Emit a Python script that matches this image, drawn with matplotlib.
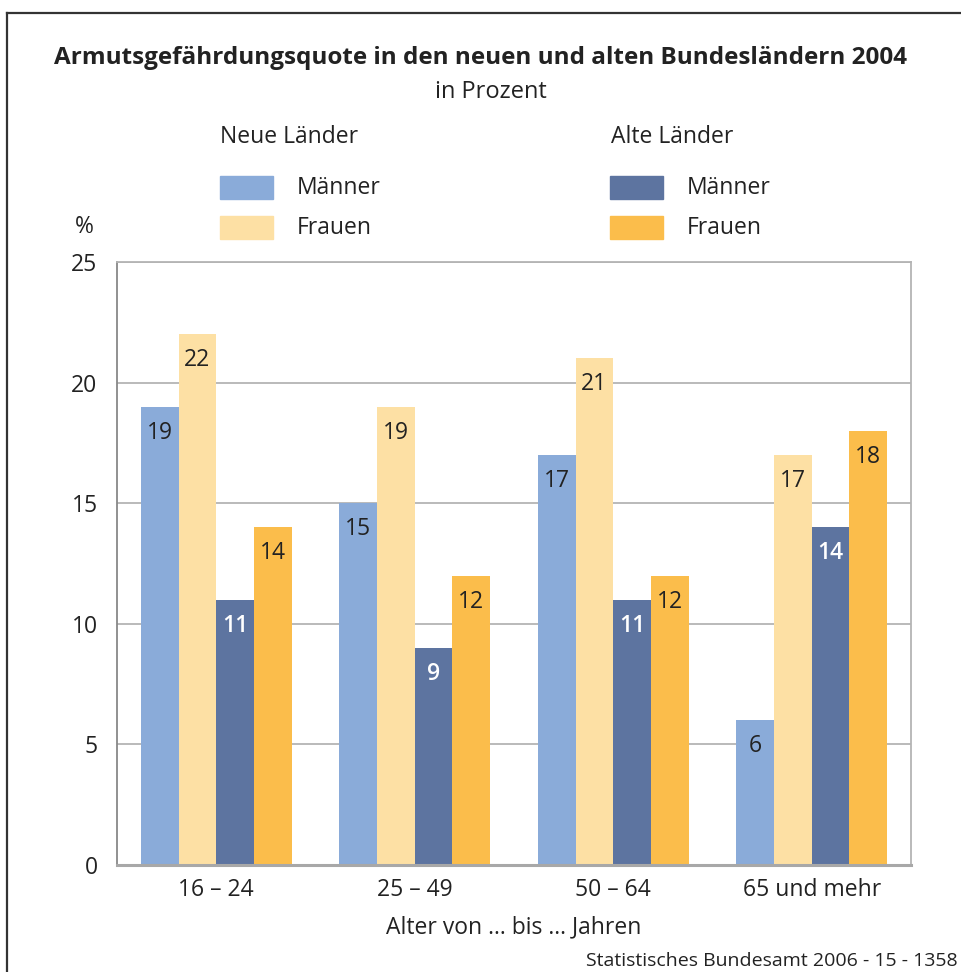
import numpy as np
import matplotlib
matplotlib.use('Agg')
import matplotlib.pyplot as plt
from matplotlib.patches import Rectangle
from matplotlib.lines import Line2D

plt.rcParams['font.family'] = ['Open Sans', 'DejaVu Sans']

# data
age_groups = ['16 – 24', '25 – 49', '50 – 64', '65 und mehr']
neue_maenner = [19, 15, 17, 6]
neue_frauen = [22, 19, 21, 17]
alte_maenner = [11, 9, 11, 14]
alte_frauen = [14, 12, 12, 18]
yticks = [0, 5, 10, 15, 20, 25]

series = [neue_maenner, neue_frauen, alte_maenner, alte_frauen]
colors = ['#8aabd9', '#fde0a4', '#5d74a0', '#fbbd4b']
label_colors = ['#222222', '#222222', 'white', '#222222']

W, H = 962, 972
txt = '#222222'
fs = 16.5
fig = plt.figure(figsize=(W/100, H/100), dpi=100)

def fx(px):
	return px / W

def fy(py):
	return 1 - py / H

# frame round the chart (only top and left visible)
fig.add_artist(Line2D([fx(7), fx(7)], [fy(13), 0], color='#333333', lw=1.6))
fig.add_artist(Line2D([fx(7), 1], [fy(13), fy(13)], color='#333333', lw=1.6))

fig.text(fx(481), fy(58), 'Armutsgefährdungsquote in den neuen und alten Bundesländern 2004',
	ha='center', va='center', fontsize=17.5, fontweight='bold', color=txt)
fig.text(fx(491), fy(92), 'in Prozent', ha='center', va='center', fontsize=17, color=txt)

# legend, built by hand in two columns
fig.text(fx(220), fy(137), 'Neue Länder', ha='left', va='center', fontsize=fs, color=txt)
fig.text(fx(611), fy(137), 'Alte Länder', ha='left', va='center', fontsize=fs, color=txt)
leg = [(220, 188, colors[0], 'Männer'), (220, 228, colors[1], 'Frauen'),
	(610, 188, colors[2], 'Männer'), (610, 228, colors[3], 'Frauen')]
for x0, yc, c, lab in leg:
	fig.add_artist(Rectangle((fx(x0), fy(yc + 11.5)), 53 / W, 23 / H, color=c, transform=fig.transFigure))
	fig.text(fx(x0 + 77), fy(yc), lab, ha='left', va='center', fontsize=fs, color=txt)

fig.text(fx(84), fy(227), '%', ha='center', va='center', fontsize=fs, color=txt)

ax = fig.add_axes([fx(117), fy(865), (911 - 117) / W, (865 - 262) / H])
x = np.arange(len(age_groups))
bw = 0.19
for i, vals in enumerate(series):
	pos = x + (i - 1.5) * bw
	bars = ax.bar(pos, vals, width=bw, color=colors[i], zorder=2, linewidth=0)
	for b, v in zip(bars, vals):
		ax.annotate(str(v), (b.get_x() + b.get_width() / 2, v), xytext=(0, -26),
			textcoords='offset pixels', ha='center', va='center', fontsize=fs,
			color=label_colors[i], fontweight='semibold' if i == 2 else 'normal', zorder=3)

ax.set_xlim(-0.5, 3.5)
ax.set_ylim(0, 25)
ax.set_yticks(yticks)
ax.set_xticks(x)
ax.set_xticklabels(age_groups)
ax.tick_params(axis='both', length=0, labelsize=fs, labelcolor=txt)
ax.tick_params(axis='y', pad=14)
ax.tick_params(axis='x', pad=9)
ax.yaxis.grid(True, color='#b4b4b4', lw=1.3, zorder=0)
ax.set_axisbelow(True)
for s in ax.spines.values():
	s.set_color('#b4b4b4')
	s.set_linewidth(1.3)
ax.spines['bottom'].set_linewidth(2.2)
ax.spines['bottom'].set_color('#a8a8a8')
ax.spines['left'].set_color('#888888')
ax.set_xlabel('Alter von ... bis ... Jahren', fontsize=fs, color=txt, labelpad=10)

fig.text(fx(958), fy(961), 'Statistisches Bundesamt 2006 - 15 - 1358', ha='right', va='center',
	fontsize=14, color=txt)

fig.savefig('out.png', dpi=100)
